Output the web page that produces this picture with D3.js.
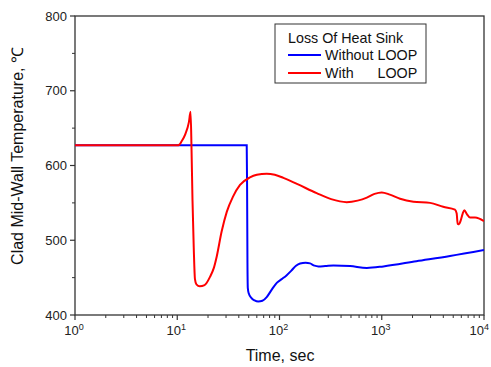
<!DOCTYPE html>
<html><head><meta charset="utf-8">
<script src="https://cdn.jsdelivr.net/npm/d3@7"></script>
<style>
body{margin:0;background:#fff;}
text{font-family:Arial,"Liberation Sans",sans-serif;}
</style></head>
<body><svg id="c" width="491" height="367"></svg>
<script>
const xTicks = [1, 10, 100, 1000, 10000];
const xTickExponents = ["0", "1", "2", "3", "4"];
const yTicks = [400, 500, 600, 700, 800];
const legendTitle = "Loss Of Heat Sink";
const seriesNames = ["Without", "With"];
const seriesSuffix = "LOOP";
const seriesColors = ["#0000ff", "#ff0000"];

const withoutLoop = [
  [1,627],[47,627],[47.8,627],[48.2,570],[48.6,470],[49,436],[50,429],[53,423],[57,419.5],[62,418],[68,419],[75,424],[84,434],[94,443],[105,448],[117,453],[130,459],[145,466],[159,469],[180,470],[199,469],[220,466],[240,465],[280,465.5],[337,466.3],[490,465.5],[715,463],[1037,465],[2180,472],[4650,479],[10000,487]
];
const withLoop = [
  [1,627],[10,627],[10.5,628],[11,632],[12,642],[13,658],[13.5,672],[13.8,620],[14.1,553],[14.5,490],[14.9,448],[15.4,441],[16.6,438.5],[18.5,440],[20.9,451],[22.8,463],[24.3,478],[27.2,512],[30.5,538],[35,558],[41.1,574],[51.4,584],[60,587.5],[75,589],[90,587.5],[109,583.5],[150,575],[231,563],[320,555],[454,551],[580,553],[715,557],[850,562],[1000,564],[1200,561],[1510,555.5],[2040,551.5],[2970,550],[3990,544.7],[5200,541],[5400,536],[5530,522],[5700,521.5],[5900,526],[6200,536],[6430,540],[6800,535],[7300,530.5],[8170,530.5],[9000,529],[10000,525.6]
];

const svg = d3.select("#c");
const L = 75, R = 484, T = 16, B = 315;
const x = d3.scaleLog().domain([1, 10000]).range([L, R]);
const y = d3.scaleLinear().domain([400, 800]).range([B, T]);

svg.append("rect").attr("x", L).attr("y", T).attr("width", R - L).attr("height", B - T)
  .attr("fill", "none").attr("stroke", "#333").attr("stroke-width", 1.3);

const minorX = [];
for (let d = 1; d < 10000; d *= 10) for (let k = 2; k <= 9; k++) minorX.push(d * k);
const xAxisG = svg.append("g").attr("transform", `translate(0,${B})`);
xAxisG.selectAll("line.maj").data(xTicks).join("line")
  .attr("x1", d => x(d)).attr("x2", d => x(d)).attr("y1", 0).attr("y2", 5)
  .attr("stroke", "#333").attr("stroke-width", 1.2);
xAxisG.selectAll("line.min").data(minorX).join("line")
  .attr("x1", d => x(d)).attr("x2", d => x(d)).attr("y1", 0).attr("y2", 3)
  .attr("stroke", "#333").attr("stroke-width", 1);
const xl = xAxisG.selectAll("text.tl").data(xTicks).join("text")
  .attr("x", (d, i) => i === xTicks.length - 1 ? 489 : x(d) - 1).attr("y", 20)
  .attr("text-anchor", (d, i) => i === xTicks.length - 1 ? "end" : "middle")
  .attr("font-size", 13).attr("fill", "#222");
xl.append("tspan").text("10");
xl.append("tspan").attr("dy", -5).attr("font-size", 9).text((d, i) => xTickExponents[i]);

const minorY = [450, 550, 650, 750];
const yAxisG = svg.append("g").attr("transform", `translate(${L},0)`);
yAxisG.selectAll("line.maj").data(yTicks).join("line")
  .attr("x1", -5).attr("x2", 0).attr("y1", d => y(d)).attr("y2", d => y(d))
  .attr("stroke", "#333").attr("stroke-width", 1.2);
yAxisG.selectAll("line.min").data(minorY).join("line")
  .attr("x1", -3).attr("x2", 0).attr("y1", d => y(d)).attr("y2", d => y(d))
  .attr("stroke", "#333").attr("stroke-width", 1);
yAxisG.selectAll("text").data(yTicks).join("text")
  .attr("x", -8).attr("y", d => y(d) + 4.5).attr("text-anchor", "end")
  .attr("font-size", 13).attr("fill", "#222").text(d => d);

svg.append("text").attr("x", 280).attr("y", 361).attr("text-anchor", "middle")
  .attr("font-size", 16).attr("fill", "#111").text("Time, sec");
svg.append("text").attr("transform", "translate(23,156) rotate(-90)")
  .attr("text-anchor", "middle").attr("font-size", 16).attr("fill", "#111")
  .text("Clad Mid-Wall Temperature, \u2103");

const line = d3.line().x(d => x(d[0])).y(d => y(d[1])).curve(d3.curveMonotoneX);
svg.append("clipPath").attr("id", "pc").append("rect")
  .attr("x", L).attr("y", T).attr("width", R - L).attr("height", B - T);
[withoutLoop, withLoop].forEach((s, i) => {
  svg.append("path").datum(s).attr("d", line).attr("fill", "none")
    .attr("stroke", seriesColors[i]).attr("stroke-width", 2)
    .attr("clip-path", "url(#pc)");
});

const lg = svg.append("g");
lg.append("rect").attr("x", 275).attr("y", 24).attr("width", 151).attr("height", 59)
  .attr("fill", "#fff").attr("stroke", "#333").attr("stroke-width", 1);
lg.append("text").attr("x", 288).attr("y", 43).attr("font-size", 14.3).attr("fill", "#111").text(legendTitle);
let loopX = 379;
seriesNames.forEach((n, i) => {
  const yy = 55 + i * 18;
  lg.append("line").attr("x1", 288).attr("x2", 321).attr("y1", yy).attr("y2", yy)
    .attr("stroke", seriesColors[i]).attr("stroke-width", 2);
  const t = lg.append("text").attr("y", yy + 5).attr("font-size", 14.3).attr("fill", "#111");
  const a = t.append("tspan").attr("x", 325).text(n);
  if (i === 0) {
    loopX = 325 + a.node().getComputedTextLength() + 4;
  }
  t.append("tspan").attr("x", loopX).text(seriesSuffix);
});
</script></body></html>
